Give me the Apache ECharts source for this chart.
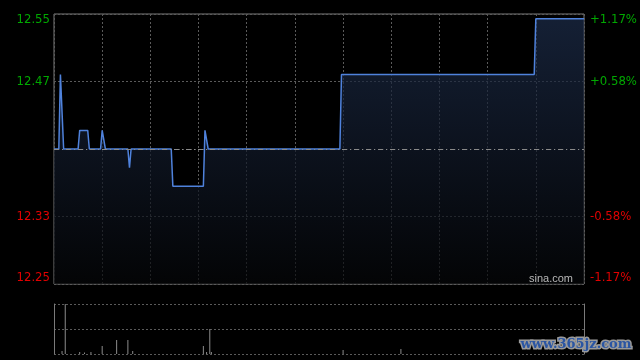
<!DOCTYPE html>
<html>
<head>
<meta charset="utf-8">
<script src="https://cdn.jsdelivr.net/npm/echarts@6/dist/echarts.min.js"></script>
<style>
html,body{margin:0;padding:0;background:#000;}
#c{width:640px;height:360px;}
</style>
</head>
<body>
<div id="c"></div>
<script>
// ---- data ----
var prevClose = 12.40;
// minutes since 09:30 (HK session: 09:30-12:00, 13:00-16:00 => 330 minutes)
var priceTimes = [0, 3, 4, 5, 6, 15, 16, 21, 22, 29, 30, 31, 32, 46, 47, 48, 73, 74, 93, 94, 95, 96, 178, 179, 299, 300, 330];
var prices     = [12.40, 12.40, 12.48, 12.48, 12.40, 12.40, 12.42, 12.42, 12.40, 12.40, 12.42, 12.42, 12.40, 12.40, 12.38, 12.40, 12.40, 12.36, 12.36, 12.42, 12.42, 12.40, 12.40, 12.48, 12.48, 12.54, 12.54];
var volTimes   = [5, 7, 16, 19, 23, 30, 39, 46, 49, 93, 95, 97, 98, 180, 216];
var volumes    = [6, 100, 4, 3, 4, 16, 28, 28, 6, 16, 4, 50, 4, 8, 10];
var leftLabels  = ['12.25', '12.33', '', '12.47', '12.55'];
var rightLabels = ['-1.17%', '-0.58%', '', '+0.58%', '+1.17%'];

// axis in thousandths of price relative to previous close
var half = 145, step = 72.5;
var lineData = priceTimes.map(function (t, i) {
  return [t, Math.round((prices[i] - prevClose) * 100000) / 100];
});
var barData = volTimes.map(function (t, i) { return [t, volumes[i]]; });

var FONT = '"Liberation Sans Narrow","Arial Narrow","DejaVu Sans Condensed",sans-serif';
var GREEN = '#00a800', RED = '#e00000';
function idx(v) { return Math.round(v / step) + 2; }
function labelFmt(arr) {
  return function (v) {
    var i = idx(v), s = arr[i];
    if (!s) return '';
    if (i === 4) return '{gt|' + s + '}';
    if (i === 3) return '{g|' + s + '}';
    if (i === 1) return '{r|' + s + '}';
    return '{rb|' + s + '}';
  };
}
var rich = {
  g: {color: GREEN, fontFamily: FONT, fontSize: 13},
  gt: {color: GREEN, fontFamily: FONT, fontSize: 13, padding: [12, 0, 0, 0]},
  r: {color: RED, fontFamily: FONT, fontSize: 13},
  rb: {color: RED, fontFamily: FONT, fontSize: 13, padding: [0, 0, 12, 0]}
};
var dotted = {color: '#5a5a5a', type: [2, 2], width: 1};

var chart = echarts.init(document.getElementById('c'), null, {renderer: 'canvas'});
chart.setOption({
  backgroundColor: '#000',
  animation: false,
  grid: [
    {left: 54, right: 56, top: 14, height: 270, show: true, borderColor: '#7a7a7a', borderWidth: 1, backgroundColor: 'transparent'},
    {left: 54, right: 56, top: 304, height: 50}
  ],
  xAxis: [
    {type: 'value', gridIndex: 0, min: 0, max: 330, interval: 30,
     axisLine: {show: false}, axisTick: {show: false}, axisLabel: {show: false},
     splitLine: {show: true, lineStyle: dotted}},
    {type: 'value', gridIndex: 1, min: 0, max: 330, interval: 30,
     axisLine: {show: false}, axisTick: {show: false}, axisLabel: {show: false},
     splitLine: {show: false}}
  ],
  yAxis: [
    {type: 'value', gridIndex: 0, min: -half, max: half, interval: step,
     axisLine: {show: false}, axisTick: {show: false},
     axisLabel: {margin: 4, formatter: labelFmt(leftLabels), rich: rich},
     splitLine: {show: true, lineStyle: dotted}},
    {type: 'value', gridIndex: 0, position: 'right', min: -half, max: half, interval: step,
     axisLine: {show: false}, axisTick: {show: false},
     axisLabel: {margin: 6, formatter: labelFmt(rightLabels), rich: rich},
     splitLine: {show: false}},
    {type: 'value', gridIndex: 1, min: 0, max: 100, interval: 50,
     axisLine: {show: true, lineStyle: {color: '#7a7a7a'}}, axisTick: {show: false}, axisLabel: {show: false},
     splitLine: {show: true, lineStyle: dotted}},
    {type: 'value', gridIndex: 1, position: 'right', min: 0, max: 100, interval: 50,
     axisLine: {show: true, lineStyle: {color: '#7a7a7a'}}, axisTick: {show: false}, axisLabel: {show: false},
     splitLine: {show: false}}
  ],
  series: [
    {type: 'line', xAxisIndex: 0, yAxisIndex: 0, data: lineData, symbol: 'none',
     lineStyle: {color: '#4f82dc', width: 1.5},
     areaStyle: {origin: 'start', color: new echarts.graphic.LinearGradient(0, 0, 0, 1, [
       {offset: 0, color: '#1d2d4b'}, {offset: 1, color: '#050608'}])},
     markLine: {silent: true, symbol: 'none', label: {show: false},
       lineStyle: {color: '#8a8a8a', type: [5, 3, 1, 3], width: 1},
       data: [{yAxis: 0}]},
     z: 3},
    {type: 'bar', xAxisIndex: 1, yAxisIndex: 2, data: barData, barWidth: 1,
     itemStyle: {color: '#8c8c8c'}}
  ],
  graphic: [
    {type: 'text', right: 67, top: 273, z: 10,
     style: {text: 'sina.com', fill: '#b8b8b8', font: '11px "Liberation Sans", Arial, sans-serif'}},
    {type: 'text', right: 7, top: 337, z: 10,
     style: {text: 'www.365jz.com', fill: '#2a55a3', stroke: '#9a9a9a', lineWidth: 3,
             font: 'bold 13px "DejaVu Serif", serif'}}
  ]
});
</script>
</body>
</html>
